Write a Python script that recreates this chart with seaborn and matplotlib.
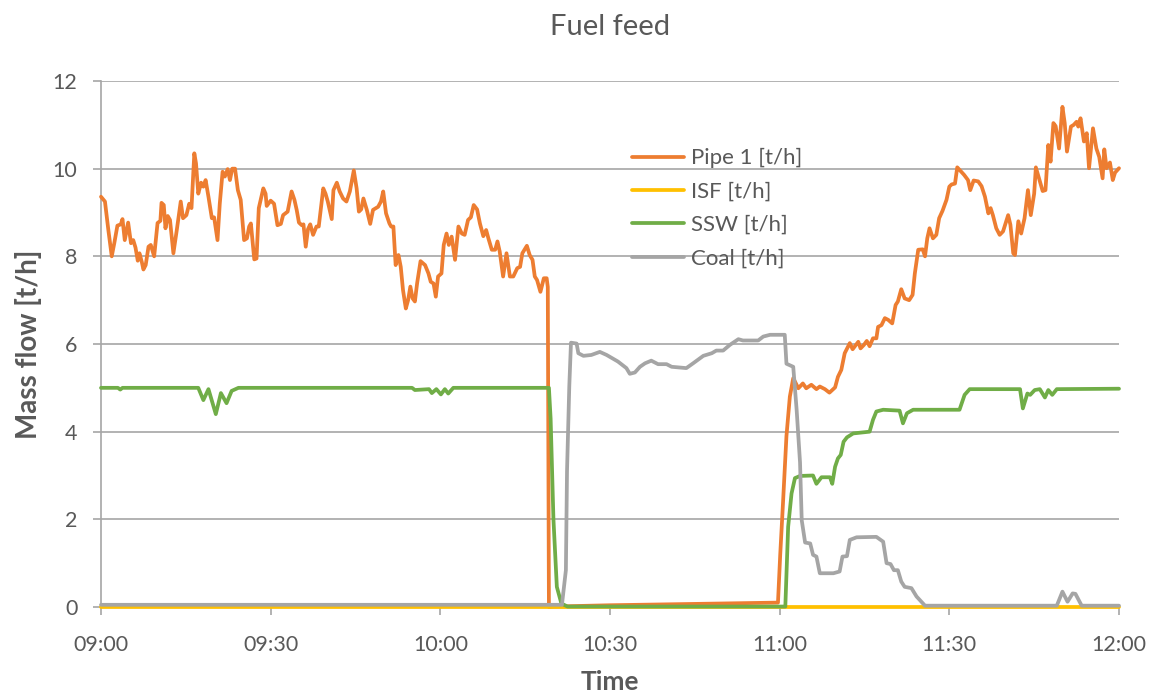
import pandas as pd
import seaborn as sns
import matplotlib.pyplot as plt
import matplotlib.dates as mdates

# minutes after 09:00 and mass flow in t/h
pipe1_min = [0.0, 0.7, 1.3, 1.9, 2.35, 2.9, 3.5, 3.8, 4.2, 4.8, 5.3, 5.7, 6.1, 6.5, 6.8, 7.2, 7.5, 7.9,
             8.4, 8.8, 9.4, 10.0, 10.5, 10.7, 11.1, 11.4, 11.8, 12.2, 12.8, 13.4, 14.1, 14.5, 15.1, 15.6,
             16.0, 16.5, 16.8, 17.2, 17.7, 18.1, 18.5, 19.0, 19.6, 20.0, 20.6, 21.0, 21.5, 21.9, 22.4,
             22.8, 23.2, 23.7, 24.2, 24.7, 25.3, 25.8, 26.2, 26.5, 27.1, 27.5, 27.9, 28.7, 29.1, 29.3,
             30.0, 30.6, 31.2, 31.8, 32.2, 33.0, 33.7, 34.2, 34.6, 35.0, 35.5, 35.8, 36.2, 36.6, 37.0,
             37.5, 38.1, 38.5, 39.3, 39.7, 40.1, 40.8, 41.1, 41.7, 42.2, 42.8, 43.4, 44.0, 44.7, 45.2,
             45.6, 46.0, 46.4, 47.0, 47.6, 48.1, 49.0, 49.5, 49.9, 50.4, 51.0, 51.3, 51.7, 52.1, 52.6,
             53.0, 53.4, 53.9, 54.3, 54.7, 55.1, 55.5, 55.9, 56.5, 57.3, 57.9, 58.3, 58.8, 59.2, 59.6,
             60.2, 60.6, 61.1, 61.5, 62.0, 62.6, 63.2, 63.8, 64.3, 64.9, 65.4, 65.9, 66.5, 67.0, 67.6,
             68.1, 68.5, 69.1, 69.7, 70.1, 70.5, 71.1, 71.7, 72.3, 72.9, 73.6, 74.1, 74.5, 75.3, 75.8,
             76.3, 76.7, 77.1, 77.7, 78.3, 78.8, 79.0, 79.2, 80.0, 90.0, 100.0, 110.0, 119.7, 120.1,
             120.6, 121.2, 121.8, 122.4, 123.3, 124.1, 124.7, 125.6, 126.5, 127.1, 128.0, 128.8, 129.8,
             130.3, 130.9, 131.5, 132.4, 132.9, 133.5, 133.9, 134.3, 134.9, 135.4, 135.9, 136.5, 137.1,
             137.4, 138.0, 138.6, 139.2, 139.9, 140.5, 140.9, 141.5, 142.1, 142.9, 143.5, 143.9, 144.5,
             145.3, 145.7, 146.1, 146.5, 147.1, 147.7, 148.2, 148.8, 149.5, 150.0, 150.4, 151.0, 151.4,
             152.1, 152.6, 153.3, 153.7, 154.3, 155.1, 155.7, 156.3, 156.9, 157.3, 157.7, 158.3, 158.9,
             159.5, 160.4, 160.8, 161.3, 161.6, 162.2, 162.7, 163.3, 163.9, 164.4, 165.0, 165.3, 165.9,
             166.5, 167.0, 167.5, 167.9, 168.4, 168.8, 169.4, 170.0, 170.4, 170.8, 171.5, 172.0, 172.5,
             172.8, 173.2, 173.8, 174.3, 174.7, 175.4, 176.0, 176.5, 177.1, 177.4, 177.8, 178.4, 178.9,
             179.3, 180.0]
pipe1_val = [9.36, 9.25, 8.6, 8.0, 8.3, 8.7, 8.73, 8.85, 8.37, 8.77, 8.3, 8.37, 8.2, 7.9, 8.07, 7.88, 7.7, 7.8,
             8.22, 8.26, 8.0, 8.76, 8.81, 9.22, 9.17, 8.64, 8.92, 8.83, 8.07, 8.6, 9.25, 8.87, 8.94, 9.2,
             9.1, 10.35, 10.12, 9.43, 9.68, 9.59, 9.74, 9.36, 8.87, 8.89, 8.37, 9.2, 9.93, 9.82, 9.99,
             9.74, 10.0, 10.0, 9.51, 9.29, 8.37, 8.41, 8.68, 8.75, 7.93, 7.95, 9.1, 9.55, 9.43, 9.15,
             9.27, 9.2, 8.71, 8.74, 8.94, 9.02, 9.48, 9.29, 9.06, 8.77, 8.71, 8.73, 8.22, 8.62, 8.73,
             8.49, 8.68, 8.68, 9.55, 9.43, 9.25, 8.85, 9.51, 9.68, 9.48, 9.32, 9.25, 9.48, 9.96, 9.55,
             9.02, 9.07, 9.32, 9.06, 8.74, 9.06, 9.13, 9.25, 9.48, 8.98, 8.75, 8.68, 8.68, 7.8, 8.03,
             7.76, 7.23, 6.81, 7.0, 7.31, 7.04, 6.97, 7.39, 7.89, 7.8, 7.61, 7.42, 7.38, 7.08, 7.54,
             7.61, 8.26, 8.52, 8.26, 8.45, 7.92, 8.68, 8.52, 8.49, 8.83, 8.89, 9.17, 9.07, 8.75, 8.46,
             8.6, 8.41, 8.15, 8.15, 8.34, 8.11, 7.54, 8.07, 7.54, 7.54, 7.73, 7.76, 8.07, 8.24, 8.03,
             7.92, 7.54, 7.46, 7.19, 7.5, 7.5, 7.3, 0.0, 0.01, 0.04, 0.06, 0.08, 0.1, 1.2,
             2.4, 3.9, 4.8, 5.22, 4.99, 5.1, 4.99, 5.07, 4.97, 5.03, 4.97, 4.89, 5.01,
             5.25, 5.41, 5.79, 6.02, 5.88, 5.98, 6.05, 5.9, 5.98, 6.07, 5.95, 6.13, 6.13,
             6.39, 6.43, 6.59, 6.55, 6.47, 6.89, 6.97, 7.25, 7.04, 7.0, 7.12, 7.61, 8.15,
             8.16, 8.0, 8.41, 8.64, 8.41, 8.49, 8.87, 9.04, 9.29, 9.59, 9.64, 9.66, 10.03,
             9.93, 9.86, 9.74, 9.51, 9.73, 9.71, 9.6, 9.36, 8.98, 9.1, 8.94, 8.64, 8.49,
             8.57, 8.94, 8.72, 8.07, 8.03, 8.8, 8.52, 8.87, 9.51, 8.94, 9.43, 10.03, 9.76,
             9.49, 9.51, 10.54, 10.16, 11.04, 10.97, 10.46, 11.41, 11.04, 10.39, 10.96, 11.0, 11.07,
             10.96, 11.15, 10.62, 10.81, 10.01, 10.92, 10.46, 10.27, 9.78, 10.44, 10.01, 10.14, 9.74,
             9.91, 10.01]

isf_min = [0.0, 180.0]
isf_val = [0.0, 0.0]

ssw_min = [0.0, 3.0, 3.4, 3.8, 17.2, 18.1, 19.0, 20.3, 21.2, 22.2, 23.1, 24.3, 55.0, 55.5, 58.0, 58.5,
           59.3, 60.1, 60.8, 61.4, 62.3, 79.2, 79.5, 80.0, 80.6, 81.4, 82.5, 121.0, 121.5, 122.1, 122.7,
           123.6, 125.9, 126.5, 127.4, 128.9, 129.3, 129.8, 130.3, 130.8, 131.3, 131.9, 133.0, 135.9,
           136.5, 137.1, 138.3, 141.2, 141.8, 142.5, 143.6, 151.8, 152.7, 153.6, 162.5, 163.0, 163.8,
           164.3, 165.1, 166.0, 166.9, 167.5, 168.2, 169.0, 180.0]
ssw_val = [5.0, 5.0, 4.96, 5.0, 5.0, 4.72, 4.97, 4.4, 4.88, 4.65, 4.93, 5.0, 5.0, 4.95, 4.97, 4.88,
           4.97, 4.85, 4.97, 4.87, 5.0, 5.0, 4.3, 2.0, 0.46, 0.08, 0.01, 0.01, 1.83, 2.59, 2.94,
           2.99, 3.0, 2.81, 2.96, 2.96, 2.81, 3.2, 3.39, 3.47, 3.77, 3.87, 3.96, 4.0,
           4.27, 4.46, 4.5, 4.48, 4.19, 4.42, 4.5, 4.5, 4.84, 4.97, 4.97, 4.53, 4.87,
           4.84, 4.95, 4.97, 4.78, 4.95, 4.84, 4.97, 4.98]

coal_min = [0.0, 81.5, 82.2, 82.4, 82.8, 83.1, 84.1, 84.4, 85.3, 86.7, 88.2, 89.4, 91.4, 92.9, 93.5,
            94.4, 95.3, 96.2, 97.3, 98.5, 100.0, 100.9, 103.5, 104.7, 106.5, 108.0, 108.8, 110.0,
            111.2, 112.7, 113.5, 116.2, 117.1, 118.3, 120.9, 121.2, 122.4, 123.0, 123.6, 123.9,
            124.5, 125.4, 125.9, 126.5, 127.1, 129.5, 130.6, 131.1, 131.9, 132.4, 133.6, 137.1,
            138.3, 138.9, 139.6, 140.2, 140.9, 141.5, 142.1, 143.3, 144.2, 145.7, 169.0, 170.0,
            170.9, 171.8, 172.3, 173.4, 180.0]
coal_val = [0.05, 0.05, 0.84, 3.1, 5.03, 6.03, 6.01, 5.79, 5.73, 5.75, 5.82, 5.75, 5.6, 5.45, 5.32,
            5.35, 5.48, 5.56, 5.62, 5.54, 5.54, 5.48, 5.45, 5.56, 5.73, 5.79, 5.85, 5.85,
            5.98, 6.11, 6.08, 6.08, 6.17, 6.21, 6.21, 5.55, 5.48, 4.5, 3.3, 1.98,
            1.47, 1.45, 1.19, 1.15, 0.77, 0.77, 0.81, 1.15, 1.16, 1.53, 1.59, 1.6,
            1.49, 1.0, 0.98, 0.84, 0.84, 0.58, 0.46, 0.43, 0.24, 0.03, 0.03, 0.35,
            0.12, 0.31, 0.3, 0.03, 0.03]

series_names = ["Pipe 1 [t/h]", "ISF [t/h]", "SSW [t/h]", "Coal [t/h]"]
series_colors = ["#ED7D31", "#FFC000", "#70AD47", "#A5A5A5"]

start = pd.Timestamp("2020-01-01 09:00")
frames = []
for name, mins, vals in zip(series_names,
                            [pipe1_min, isf_min, ssw_min, coal_min],
                            [pipe1_val, isf_val, ssw_val, coal_val]):
    frames.append(pd.DataFrame({
        "Time": start + pd.to_timedelta(mins, unit="min"),
        "Mass flow": vals,
        "series": name,
    }))
df = pd.concat(frames, ignore_index=True)

sns.set_style("white")
plt.rcParams["font.family"] = ["Lato", "DejaVu Sans"]
text_color = "#595959"
grid_color = "#A6A6A6"

fig = plt.figure(figsize=(11.57, 7), dpi=100)
ax = fig.add_axes([101 / 1157, 93 / 700, 1018 / 1157, 526 / 700])

sns.lineplot(data=df, x="Time", y="Mass flow", hue="series", hue_order=series_names,
             palette=dict(zip(series_names, series_colors)), estimator=None, sort=False,
             linewidth=2.7, ax=ax)
# lines sitting on zero should not be cut in half by the axes edge
for line in ax.get_lines():
    line.set_clip_on(False)
    line.set_solid_joinstyle("round")

ax.set_xlim(start, start + pd.Timedelta(minutes=180))
ax.set_ylim(0, 12)
ax.set_yticks(range(0, 13, 2))
ax.xaxis.set_major_locator(mdates.MinuteLocator(byminute=[0, 30]))
ax.xaxis.set_major_formatter(mdates.DateFormatter("%H:%M"))

ax.yaxis.grid(True, color=grid_color, linewidth=1.2)
ax.xaxis.grid(False)
ax.set_axisbelow(True)
for side in ["top", "right"]:
    ax.spines[side].set_visible(False)
for side in ["left", "bottom"]:
    ax.spines[side].set_color(grid_color)
    ax.spines[side].set_linewidth(1.2)
    ax.spines[side].set_zorder(0.5)

ax.tick_params(axis="x", direction="out", length=6, width=1.2, color=grid_color,
               labelcolor=text_color, labelsize=15.5, pad=14, bottom=True)
ax.tick_params(axis="y", direction="out", length=6, width=1.2, color=grid_color,
               labelcolor=text_color, labelsize=15.5, pad=11, left=True)

ax.set_xlabel("Time", fontsize=19, fontweight="bold", color=text_color, labelpad=11)
ax.set_ylabel("Mass flow [t/h]", fontsize=20, fontweight="bold", color=text_color, labelpad=8)
ax.set_title("Fuel feed", fontsize=21, color=text_color, pad=33)

ax.legend(frameon=False, loc="upper left", bbox_to_anchor=(0.522, 0.872), borderaxespad=0,
          borderpad=0, fontsize=16, handlelength=2.3, handletextpad=0.35, labelspacing=0.6,
          labelcolor=text_color)

fig.savefig("out.png", dpi=100)
